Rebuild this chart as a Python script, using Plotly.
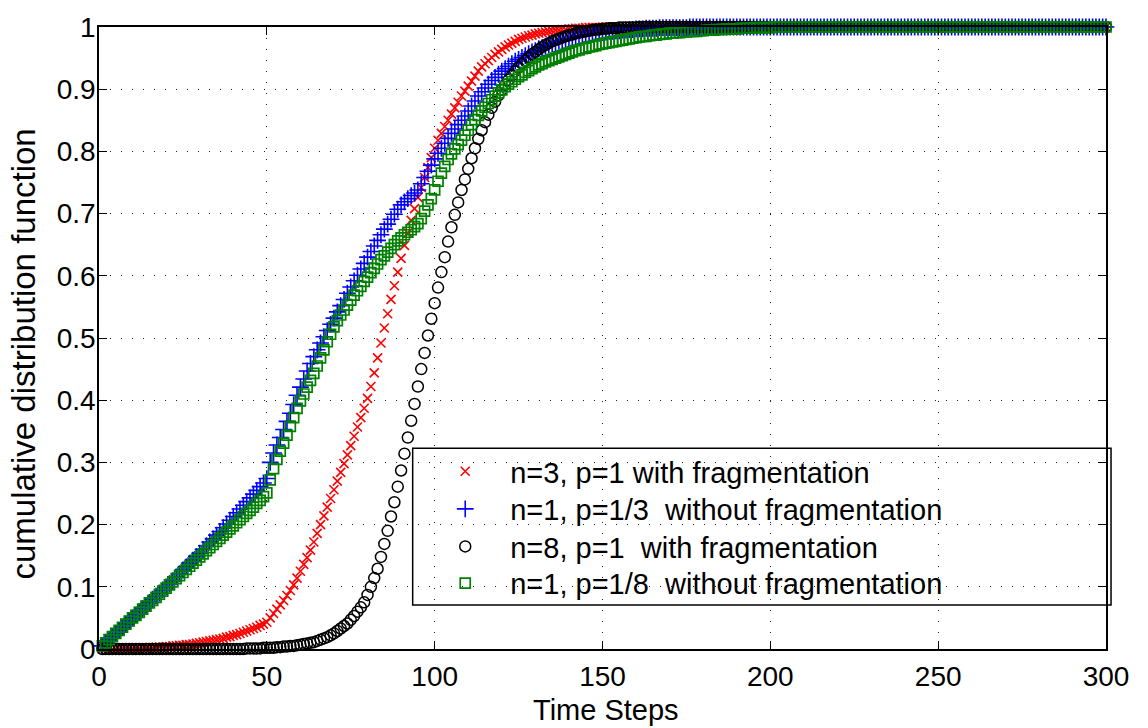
import plotly.graph_objects as go

# ---------------- data ----------------
time_steps = list(range(1, 301))

cdf_n3_p1_frag = [
    0, 0, 0, 0, 0, 0, 0.001, 0.001, 0.001, 0.001,
    0.001, 0.001, 0.002, 0.002, 0.002, 0.002, 0.003, 0.003, 0.003, 0.004,
    0.004, 0.005, 0.005, 0.006, 0.006, 0.007, 0.007, 0.008, 0.009, 0.010,
    0.011, 0.012, 0.013, 0.014, 0.015, 0.016, 0.017, 0.019, 0.020, 0.022,
    0.023, 0.025, 0.027, 0.029, 0.031, 0.033, 0.035, 0.038, 0.040, 0.043,
    0.050, 0.057, 0.064, 0.071, 0.078, 0.086, 0.094, 0.103, 0.114, 0.125,
    0.136, 0.147, 0.159, 0.172, 0.186, 0.200, 0.214, 0.228, 0.242, 0.256,
    0.270, 0.284, 0.298, 0.312, 0.327, 0.342, 0.357, 0.372, 0.387, 0.403,
    0.422, 0.444, 0.468, 0.492, 0.516, 0.539, 0.562, 0.584, 0.606, 0.628,
    0.649, 0.669, 0.689, 0.708, 0.726, 0.742, 0.758, 0.774, 0.790, 0.805,
    0.818, 0.829, 0.840, 0.850, 0.860, 0.870, 0.879, 0.889, 0.897, 0.905,
    0.913, 0.921, 0.929, 0.936, 0.941, 0.946, 0.951, 0.956, 0.960, 0.964,
    0.968, 0.971, 0.974, 0.977, 0.980, 0.982, 0.984, 0.986, 0.987, 0.989,
    0.990, 0.991, 0.992, 0.993, 0.994, 0.995, 0.995, 0.996, 0.996, 0.997,
    0.997, 0.998, 0.998, 0.998, 0.999, 0.999, 0.999, 0.999, 0.999, 1,
    1, 1, 1, 1, 1, 1, 1, 1, 1, 1,
    1, 1, 1, 1, 1, 1, 1, 1, 1, 1,
    1, 1, 1, 1, 1, 1, 1, 1, 1, 1,
    1, 1, 1, 1, 1, 1, 1, 1, 1, 1,
    1, 1, 1, 1, 1, 1, 1, 1, 1, 1,
    1, 1, 1, 1, 1, 1, 1, 1, 1, 1,
    1, 1, 1, 1, 1, 1, 1, 1, 1, 1,
    1, 1, 1, 1, 1, 1, 1, 1, 1, 1,
    1, 1, 1, 1, 1, 1, 1, 1, 1, 1,
    1, 1, 1, 1, 1, 1, 1, 1, 1, 1,
    1, 1, 1, 1, 1, 1, 1, 1, 1, 1,
    1, 1, 1, 1, 1, 1, 1, 1, 1, 1,
    1, 1, 1, 1, 1, 1, 1, 1, 1, 1,
    1, 1, 1, 1, 1, 1, 1, 1, 1, 1,
    1, 1, 1, 1, 1, 1, 1, 1, 1, 1,
]

cdf_n1_p13_nofrag = [
    0.005, 0.010, 0.015, 0.020, 0.025, 0.030, 0.035, 0.040, 0.045, 0.050,
    0.055, 0.060, 0.065, 0.070, 0.075, 0.080, 0.085, 0.090, 0.095, 0.100,
    0.105, 0.110, 0.116, 0.121, 0.127, 0.132, 0.138, 0.143, 0.149, 0.154,
    0.160, 0.166, 0.172, 0.177, 0.183, 0.189, 0.195, 0.201, 0.207, 0.213,
    0.219, 0.225, 0.231, 0.237, 0.243, 0.249, 0.255, 0.261, 0.267, 0.274,
    0.300, 0.315, 0.328, 0.340, 0.353, 0.366, 0.379, 0.393, 0.408, 0.421,
    0.434, 0.447, 0.459, 0.470, 0.481, 0.492, 0.502, 0.512, 0.522, 0.532,
    0.542, 0.552, 0.562, 0.572, 0.582, 0.592, 0.601, 0.611, 0.620, 0.630,
    0.639, 0.648, 0.657, 0.666, 0.675, 0.683, 0.691, 0.699, 0.707, 0.714,
    0.719, 0.724, 0.729, 0.733, 0.738, 0.748, 0.758, 0.768, 0.778, 0.788,
    0.797, 0.805, 0.813, 0.821, 0.829, 0.836, 0.843, 0.850, 0.857, 0.865,
    0.873, 0.881, 0.889, 0.896, 0.902, 0.908, 0.914, 0.919, 0.924, 0.929,
    0.933, 0.937, 0.941, 0.945, 0.948, 0.951, 0.954, 0.957, 0.960, 0.962,
    0.965, 0.967, 0.969, 0.971, 0.973, 0.975, 0.977, 0.978, 0.980, 0.981,
    0.982, 0.984, 0.985, 0.986, 0.987, 0.988, 0.989, 0.990, 0.990, 0.991,
    0.992, 0.993, 0.993, 0.994, 0.994, 0.995, 0.995, 0.996, 0.996, 0.997,
    0.997, 0.997, 0.998, 0.998, 0.998, 0.998, 0.999, 0.999, 0.999, 0.999,
    0.999, 0.999, 0.999, 0.999, 0.999, 1, 1, 1, 1, 1,
    1, 1, 1, 1, 1, 1, 1, 1, 1, 1,
    1, 1, 1, 1, 1, 1, 1, 1, 1, 1,
    1, 1, 1, 1, 1, 1, 1, 1, 1, 1,
    1, 1, 1, 1, 1, 1, 1, 1, 1, 1,
    1, 1, 1, 1, 1, 1, 1, 1, 1, 1,
    1, 1, 1, 1, 1, 1, 1, 1, 1, 1,
    1, 1, 1, 1, 1, 1, 1, 1, 1, 1,
    1, 1, 1, 1, 1, 1, 1, 1, 1, 1,
    1, 1, 1, 1, 1, 1, 1, 1, 1, 1,
    1, 1, 1, 1, 1, 1, 1, 1, 1, 1,
    1, 1, 1, 1, 1, 1, 1, 1, 1, 1,
    1, 1, 1, 1, 1, 1, 1, 1, 1, 1,
]

cdf_n8_p1_frag = [
    0, 0, 0, 0, 0, 0, 0, 0, 0, 0,
    0, 0, 0, 0, 0, 0, 0, 0, 0, 0,
    0, 0, 0, 0, 0, 0, 0, 0, 0, 0,
    0, 0, 0, 0, 0, 0, 0, 0, 0, 0,
    0, 0, 0, 0.001, 0.001, 0.001, 0.001, 0.001, 0.002, 0.002,
    0.002, 0.002, 0.003, 0.003, 0.004, 0.004, 0.005, 0.005, 0.006, 0.007,
    0.008, 0.009, 0.010, 0.011, 0.013, 0.015, 0.017, 0.019, 0.022, 0.025,
    0.029, 0.033, 0.037, 0.041, 0.047, 0.053, 0.060, 0.067, 0.075, 0.087,
    0.100, 0.114, 0.129, 0.148, 0.169, 0.190, 0.213, 0.236, 0.261, 0.287,
    0.314, 0.340, 0.367, 0.394, 0.422, 0.450, 0.476, 0.504, 0.531, 0.556,
    0.581, 0.606, 0.630, 0.655, 0.678, 0.698, 0.718, 0.738, 0.755, 0.772,
    0.789, 0.805, 0.820, 0.834, 0.847, 0.859, 0.870, 0.880, 0.890, 0.899,
    0.907, 0.915, 0.922, 0.929, 0.935, 0.941, 0.946, 0.951, 0.956, 0.960,
    0.964, 0.968, 0.971, 0.974, 0.977, 0.979, 0.981, 0.983, 0.985, 0.987,
    0.988, 0.990, 0.991, 0.992, 0.993, 0.994, 0.995, 0.996, 0.996, 0.997,
    0.997, 0.998, 0.998, 0.998, 0.999, 0.999, 0.999, 0.999, 0.999, 0.999,
    1, 1, 1, 1, 1, 1, 1, 1, 1, 1,
    1, 1, 1, 1, 1, 1, 1, 1, 1, 1,
    1, 1, 1, 1, 1, 1, 1, 1, 1, 1,
    1, 1, 1, 1, 1, 1, 1, 1, 1, 1,
    1, 1, 1, 1, 1, 1, 1, 1, 1, 1,
    1, 1, 1, 1, 1, 1, 1, 1, 1, 1,
    1, 1, 1, 1, 1, 1, 1, 1, 1, 1,
    1, 1, 1, 1, 1, 1, 1, 1, 1, 1,
    1, 1, 1, 1, 1, 1, 1, 1, 1, 1,
    1, 1, 1, 1, 1, 1, 1, 1, 1, 1,
    1, 1, 1, 1, 1, 1, 1, 1, 1, 1,
    1, 1, 1, 1, 1, 1, 1, 1, 1, 1,
    1, 1, 1, 1, 1, 1, 1, 1, 1, 1,
    1, 1, 1, 1, 1, 1, 1, 1, 1, 1,
]

cdf_n1_p18_nofrag = [
    0.005, 0.010, 0.015, 0.020, 0.025, 0.030, 0.035, 0.040, 0.045, 0.050,
    0.054, 0.059, 0.064, 0.069, 0.074, 0.078, 0.083, 0.088, 0.093, 0.098,
    0.103, 0.108, 0.113, 0.118, 0.123, 0.128, 0.133, 0.138, 0.143, 0.148,
    0.153, 0.158, 0.163, 0.168, 0.173, 0.178, 0.183, 0.188, 0.193, 0.198,
    0.203, 0.208, 0.213, 0.218, 0.223, 0.228, 0.234, 0.239, 0.245, 0.251,
    0.272, 0.290, 0.305, 0.318, 0.331, 0.344, 0.358, 0.372, 0.387, 0.399,
    0.410, 0.421, 0.432, 0.443, 0.455, 0.468, 0.481, 0.494, 0.506, 0.518,
    0.528, 0.537, 0.545, 0.553, 0.561, 0.569, 0.576, 0.583, 0.591, 0.598,
    0.605, 0.612, 0.619, 0.626, 0.632, 0.638, 0.644, 0.650, 0.656, 0.661,
    0.666, 0.670, 0.674, 0.679, 0.684, 0.692, 0.704, 0.714, 0.724, 0.738,
    0.752, 0.765, 0.776, 0.787, 0.796, 0.804, 0.811, 0.818, 0.826, 0.834,
    0.843, 0.851, 0.858, 0.865, 0.871, 0.877, 0.883, 0.889, 0.894, 0.899,
    0.904, 0.908, 0.912, 0.916, 0.920, 0.923, 0.927, 0.930, 0.933, 0.936,
    0.939, 0.941, 0.944, 0.946, 0.948, 0.950, 0.952, 0.954, 0.956, 0.958,
    0.960, 0.962, 0.963, 0.965, 0.966, 0.968, 0.969, 0.970, 0.972, 0.973,
    0.974, 0.975, 0.976, 0.977, 0.978, 0.979, 0.980, 0.981, 0.982, 0.983,
    0.984, 0.985, 0.985, 0.986, 0.987, 0.987, 0.988, 0.989, 0.989, 0.990,
    0.990, 0.991, 0.991, 0.992, 0.992, 0.993, 0.993, 0.993, 0.994, 0.994,
    0.995, 0.995, 0.995, 0.996, 0.996, 0.996, 0.997, 0.997, 0.997, 0.997,
    0.998, 0.998, 0.998, 0.998, 0.999, 0.999, 0.999, 0.999, 0.999, 0.999,
    1, 1, 1, 1, 1, 1, 1, 1, 1, 1,
    1, 1, 1, 1, 1, 1, 1, 1, 1, 1,
    1, 1, 1, 1, 1, 1, 1, 1, 1, 1,
    1, 1, 1, 1, 1, 1, 1, 1, 1, 1,
    1, 1, 1, 1, 1, 1, 1, 1, 1, 1,
    1, 1, 1, 1, 1, 1, 1, 1, 1, 1,
    1, 1, 1, 1, 1, 1, 1, 1, 1, 1,
    1, 1, 1, 1, 1, 1, 1, 1, 1, 1,
    1, 1, 1, 1, 1, 1, 1, 1, 1, 1,
    1, 1, 1, 1, 1, 1, 1, 1, 1, 1,
]

series_names = [
    "n=3, p=1 with fragmentation",
    "n=1, p=1/3  without fragmentation",
    "n=8, p=1  with fragmentation",
    "n=1, p=1/8  without fragmentation",
]

x_tick_values = [0, 50, 100, 150, 200, 250, 300]
y_tick_values = [0, 0.1, 0.2, 0.3, 0.4, 0.5, 0.6, 0.7, 0.8, 0.9, 1]
y_tick_labels = ["0", "0.1", "0.2", "0.3", "0.4", "0.5", "0.6", "0.7", "0.8", "0.9", "1"]
x_title = "Time Steps"
y_title = "cumulative distribution function"

# ---------------- figure ----------------
FONT = "Liberation Sans, Arial, Helvetica, sans-serif"

styles = [
    dict(symbol="x-thin-open", size=9, color="#ff0000", width=1.6),
    dict(symbol="cross-thin-open", size=12, color="#0000ff", width=1.6),
    dict(symbol="circle-open", size=11, color="#000000", width=1.5),
    dict(symbol="square-open", size=10, color="#008000", width=1.7),
]
series = [cdf_n3_p1_frag, cdf_n1_p13_nofrag, cdf_n8_p1_frag, cdf_n1_p18_nofrag]
legend_ids = ["legend", "legend2", "legend3", "legend4"]
legend_rows_y = [0.2856, 0.2251, 0.1647, 0.1058]   # paper y of each legend row

fig = go.Figure()
for name, ys, st, lid in zip(series_names, series, styles, legend_ids):
    fig.add_trace(go.Scatter(
        x=time_steps, y=ys, mode="markers", name=name, legend=lid,
        marker=dict(symbol=st["symbol"], size=st["size"], color=st["color"],
                    line=dict(color=st["color"], width=st["width"])),
        cliponaxis=False,
    ))

axis_common = dict(
    showline=True, linecolor="black", linewidth=1.5, mirror="ticks",
    ticks="inside", ticklen=8, tickwidth=1.2, tickcolor="black",
    showgrid=True, gridcolor="#222222", gridwidth=1, griddash="1px,10px",
    zeroline=False, tickfont=dict(family=FONT, size=28, color="black"),
)

legend_layouts = {}
for lid, ly in zip(legend_ids, legend_rows_y):
    legend_layouts[lid] = dict(
        x=0.319, y=ly, xanchor="left", yanchor="middle",
        bgcolor="rgba(0,0,0,0)", borderwidth=0,
        font=dict(family=FONT, size=29, color="black"),
        itemwidth=80,
    )

fig.update_layout(
    width=1148, height=728,
    margin=dict(l=99, r=42, t=21, b=79),
    paper_bgcolor="white", plot_bgcolor="white",
    font=dict(family=FONT, color="black"),
    showlegend=True,
    xaxis=dict(range=[0, 300], tickvals=x_tick_values, ticklabelstandoff=2,
               **axis_common),
    yaxis=dict(range=[0, 1], tickvals=y_tick_values, ticktext=y_tick_labels,
               ticklabelstandoff=-4, **axis_common),
    shapes=[dict(type="rect", xref="paper", yref="paper",
                 x0=0.3115, x1=1.005, y0=0.0708, y1=0.3227,
                 line=dict(color="black", width=1.5), fillcolor="white", layer="below")],
    annotations=[
        dict(text=x_title, xref="paper", yref="paper", x=0.5035, y=-0.0985,
             xanchor="center", yanchor="middle", showarrow=False,
             font=dict(family=FONT, size=29, color="black")),
        dict(text=y_title, xref="paper", yref="paper", x=-0.0745, y=0.475,
             xanchor="center", yanchor="middle", textangle=-90, showarrow=False,
             font=dict(family=FONT, size=33, color="black")),
    ],
    **legend_layouts,
)

fig.write_html("out.html")
